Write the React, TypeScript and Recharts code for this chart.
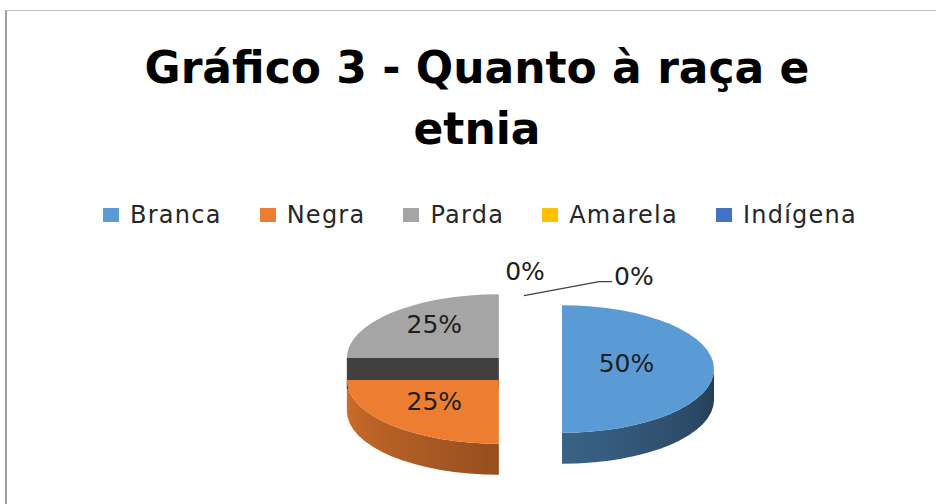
import React from 'react';
import { PieChart, Pie, Cell, Legend } from 'recharts';

const categories = ['Branca', 'Negra', 'Parda', 'Amarela', 'Indígena'];
const values = [50, 25, 25, 0, 0];
const colors = ['#5B9BD5', '#ED7D31', '#A5A5A5', '#FFC000', '#4472C4'];
const titleLines = ['Gráfico 3 - Quanto à raça e', 'etnia'];

const data = categories.map((name, i) => ({ name, value: values[i] }));

const W = 936;
const H = 504;
const CX = 525;
const CY = 369;
const RADIUS = 152;
const K = 0.42; // vertical squash of the tilted pie
const EXPLODE = 37;
const DEPTH = 31;
const FONT = "'DejaVu Sans', sans-serif";
const RAD = Math.PI / 180;

type P = [number, number];

function sliceCenter(cx: number, cy: number, mid: number): P {
  return [cx + EXPLODE * Math.cos(mid * RAD), cy - EXPLODE * K * Math.sin(mid * RAD)];
}
function pt(o: P, r: number, a: number, dz = 0): P {
  return [o[0] + r * Math.cos(a * RAD), o[1] - r * K * Math.sin(a * RAD) + dz];
}
function shade(hex: string, f: number): string {
  const h = hex.replace('#', '');
  const c = [0, 2, 4].map((i) => Math.max(0, Math.min(255, Math.round(parseInt(h.slice(i, i + 2), 16) * f))));
  return `rgb(${c[0]},${c[1]},${c[2]})`;
}
const f2 = (p: P) => `${p[0].toFixed(2)},${p[1].toFixed(2)}`;

// brightness of the outer wall by angle (light from the front-left)
function wallLight(a: number): number {
  return 0.39 + (-a / 180) * 0.49;
}

const SideShape = (props: any) => {
  const { cx, cy, outerRadius, startAngle, endAngle, fill, index } = props;
  if (Math.abs(startAngle - endAngle) < 1e-6) return <g />;
  const R = outerRadius;
  const mid = (startAngle + endAngle) / 2;
  const o = sliceCenter(cx, cy, mid);
  const hi = Math.max(startAngle, endAngle);
  const lo = Math.min(startAngle, endAngle);
  const faces: any[] = [];
  const faceColor = shade(fill, 0.39);
  const face = (a: number, key: string) => {
    const p = pt(o, R, a);
    const pd = pt(o, R, a, DEPTH);
    const od: P = [o[0], o[1] + DEPTH];
    faces.push(
      <path key={key} d={`M${f2(o)} L${f2(p)} L${f2(pd)} L${f2(od)} Z`} fill={faceColor} />
    );
  };
  if (Math.cos(hi * RAD) < -1e-6) face(hi, 'fh');
  if (Math.cos(lo * RAD) > 1e-6) face(lo, 'fl');

  const walls: any[] = [];
  for (let n = -2; n <= 1; n++) {
    const segLo = Math.max(lo, -180 + 360 * n);
    const segHi = Math.min(hi, 360 * n);
    if (segHi - segLo < 0.01) continue;
    const a = pt(o, R, segHi);
    const b = pt(o, R, segLo);
    const bd = pt(o, R, segLo, DEPTH);
    const ad = pt(o, R, segHi, DEPTH);
    const id = `wall-${index}-${n + 2}`;
    const xmin = b[0];
    const xmax = a[0];
    const stops: any[] = [];
    const steps = 8;
    for (let s = 0; s <= steps; s++) {
      const ang = segLo + ((segHi - segLo) * s) / steps;
      const x = o[0] + R * Math.cos(ang * RAD);
      const off = xmax - xmin > 0.01 ? (x - xmin) / (xmax - xmin) : s / steps;
      stops.push(
        <stop key={s} offset={Math.max(0, Math.min(1, off))} stopColor={shade(fill, wallLight(ang - 360 * n))} />
      );
    }
    walls.push(
      <g key={id}>
        <defs>
          <linearGradient id={id} gradientUnits="userSpaceOnUse" x1={xmin} y1={0} x2={xmax} y2={0}>
            {stops}
          </linearGradient>
        </defs>
        <path
          d={`M${f2(a)} A${R},${R * K} 0 0 1 ${f2(b)} L${f2(bd)} A${R},${R * K} 0 0 0 ${f2(ad)} Z`}
          fill={`url(#${id})`}
        />
      </g>
    );
  }
  return (
    <g>
      {faces}
      {walls}
    </g>
  );
};

const TopShape = (props: any) => {
  const { cx, cy, outerRadius, startAngle, endAngle, fill } = props;
  if (Math.abs(startAngle - endAngle) < 1e-6) return <g />;
  const R = outerRadius;
  const mid = (startAngle + endAngle) / 2;
  const o = sliceCenter(cx, cy, mid);
  const p0 = pt(o, R, startAngle);
  const p1 = pt(o, R, endAngle);
  const large = Math.abs(endAngle - startAngle) > 180 ? 1 : 0;
  const sweep = endAngle < startAngle ? 1 : 0;
  return (
    <path
      d={`M${f2(o)} L${f2(p0)} A${R},${R * K} 0 ${large} ${sweep} ${f2(p1)} Z`}
      fill={fill}
    />
  );
};

const renderLabel = (props: any) => {
  const { cx, cy, outerRadius, startAngle, endAngle, percent, index, value } = props;
  const R = outerRadius;
  const mid = (startAngle + endAngle) / 2;
  const o = sliceCenter(cx, cy, mid);
  const text = `${Math.round((percent || 0) * 100)}%`;
  const common = { fontFamily: FONT, fontSize: 25, fill: '#1e1e1e' };
  if (value > 0) {
    const half = (Math.abs(endAngle - startAngle) / 2) * RAD;
    const dist = (2 * R * Math.sin(half)) / (3 * half);
    const x = o[0] + dist * Math.cos(mid * RAD);
    const y = o[1] - dist * K * Math.sin(mid * RAD) - 6;
    return (
      <text x={x} y={y} textAnchor="middle" dominantBaseline="central" {...common}>
        {text}
      </text>
    );
  }
  const zeroOrder = values.slice(0, index).filter((v) => v === 0).length;
  const top = pt(o, R, mid);
  if (zeroOrder === 0) {
    return (
      <text x={top[0]} y={top[1] - 18} textAnchor="middle" dominantBaseline="central" {...common}>
        {text}
      </text>
    );
  }
  const dir = zeroOrder % 2 === 1 ? 1 : -1;
  const lift = 8 + 8 * Math.floor((zeroOrder - 1) / 2);
  const s: P = [top[0] - 1, top[1] + 6];
  const m: P = [top[0] + dir * 74, top[1] - lift];
  const e: P = [top[0] + dir * 87, top[1] - lift];
  return (
    <g>
      <path d={`M${f2(s)} L${f2(m)} L${f2(e)}`} stroke="#404040" strokeWidth={1.2} fill="none" />
      <text
        x={e[0] + dir * 2}
        y={e[1] - 5}
        textAnchor={dir > 0 ? 'start' : 'end'}
        dominantBaseline="central"
        {...common}
      >
        {text}
      </text>
    </g>
  );
};

const renderLegend = (props: any) => {
  const payload = (props.payload || []).filter((p: any) => p.type !== 'none');
  const seen = new Set<string>();
  const items = payload
    .filter((p: any) => {
      if (seen.has(p.value)) return false;
      seen.add(p.value);
      return true;
    })
    .sort((a: any, b: any) => categories.indexOf(a.value) - categories.indexOf(b.value));
  return (
    <div style={{ display: 'flex', alignItems: 'center', gap: 38, fontFamily: FONT, fontSize: 24 }}>
      {items.map((p: any) => (
        <div key={p.value} style={{ display: 'flex', alignItems: 'center', lineHeight: '24px' }}>
          <div style={{ width: 16, height: 14, background: p.color, marginRight: 11 }} />
          <span style={{ color: '#262626', letterSpacing: 1.25, whiteSpace: 'nowrap' }}>{p.value}</span>
        </div>
      ))}
    </div>
  );
};

export default function App() {
  return (
    <div
      style={{
        position: 'fixed',
        left: 0,
        top: 0,
        width: W,
        height: H,
        overflow: 'hidden',
        background: '#ffffff',
      }}
    >
      <div
        style={{
          position: 'absolute',
          left: 5,
          top: 10,
          width: 960,
          height: 520,
          borderTop: '1px solid #BFBFBF',
          borderLeft: '2px solid #A0A0A0',
        }}
      />
      <div
        style={{
          position: 'absolute',
          left: 9,
          top: 37,
          width: W,
          textAlign: 'center',
          fontFamily: FONT,
          fontWeight: 'bold',
          fontSize: 44,
          lineHeight: '61px',
          color: '#000',
          whiteSpace: 'nowrap',
        }}
      >
        {titleLines.map((t) => (
          <div key={t}>{t}</div>
        ))}
      </div>
      <div style={{ position: 'absolute', left: 0, top: 0 }}>
        <PieChart width={W} height={H} margin={{ top: 0, right: 0, bottom: 0, left: 0 }}>
          <Pie
            data={data}
            dataKey="value"
            nameKey="name"
            cx={CX}
            cy={CY}
            outerRadius={RADIUS}
            startAngle={90}
            endAngle={-270}
            isAnimationActive={false}
            legendType="none"
            shape={SideShape}
            label={false}
            labelLine={false}
          >
            {data.map((d, i) => (
              <Cell key={d.name} fill={colors[i]} />
            ))}
          </Pie>
          <Pie
            data={data}
            dataKey="value"
            nameKey="name"
            cx={CX}
            cy={CY}
            outerRadius={RADIUS}
            startAngle={90}
            endAngle={-270}
            isAnimationActive={false}
            legendType="square"
            shape={TopShape}
            label={renderLabel}
            labelLine={false}
          >
            {data.map((d, i) => (
              <Cell key={d.name} fill={colors[i]} />
            ))}
          </Pie>
          <Legend
            content={renderLegend}
            itemSorter={null as any}
            wrapperStyle={{ position: 'absolute', left: 103, top: 203, width: 820, height: 24 }}
          />
        </PieChart>
      </div>
    </div>
  );
}
